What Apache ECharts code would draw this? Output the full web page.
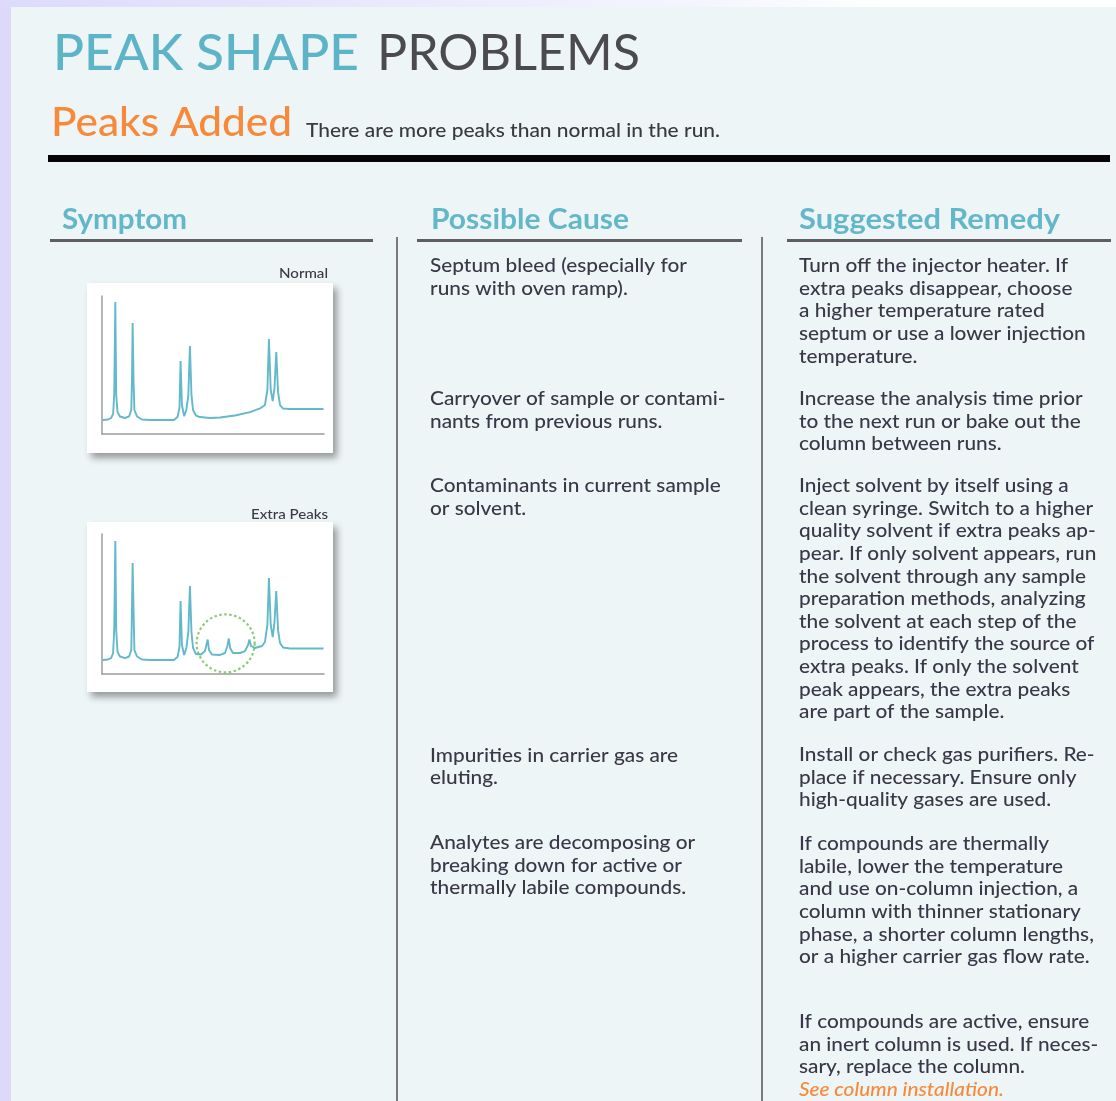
<!DOCTYPE html>
<html><head><meta charset="utf-8">
<script src="https://cdn.jsdelivr.net/npm/echarts@6/dist/echarts.min.js"></script>
<style>html,body{margin:0;padding:0;background:#DCD9FB;}#c{width:1116px;height:1101px;}</style>
</head><body><div id="c"></div>
<script>
// ---------- content ----------
const pageTitle = ['PEAK SHAPE', 'PROBLEMS'];
const problemName = 'Peaks Added';
const problemDesc = 'There are more peaks than normal in the run.';
const columnHeaders = ['Symptom', 'Possible Cause', 'Suggested Remedy'];
const chartLabels = ['Normal', 'Extra Peaks'];
const causes = [
  'Septum bleed (especially for\nruns with oven ramp).',
  'Carryover of sample or contami-\nnants from previous runs.',
  'Contaminants in current sample\nor solvent.',
  'Impurities in carrier gas are\neluting.',
  'Analytes are decomposing or\nbreaking down for active or\nthermally labile compounds.'
];
const remedies = [
  'Turn off the injector heater. If\nextra peaks disappear, choose\na higher temperature rated\nseptum or use a lower injection\ntemperature.',
  'Increase the analysis time prior\nto the next run or bake out the\ncolumn between runs.',
  'Inject solvent by itself using a\nclean syringe. Switch to a higher\nquality solvent if extra peaks ap-\npear. If only solvent appears, run\nthe solvent through any sample\npreparation methods, analyzing\nthe solvent at each step of the\nprocess to identify the source of\nextra peaks. If only the solvent\npeak appears, the extra peaks\nare part of the sample.',
  'Install or check gas purifiers. Re-\nplace if necessary. Ensure only\nhigh-quality gases are used.',
  'If compounds are thermally\nlabile, lower the temperature\nand use on-column injection, a\ncolumn with thinner stationary\nphase, a shorter column lengths,\nor a higher carrier gas flow rate.',
  'If compounds are active, ensure\nan inert column is used. If neces-\nsary, replace the column.'
];
const remedyLink = 'See column installation.';

// chromatogram (time 0-100, signal 0-100)
const normalTime =   [0.3, 2.7, 4.1, 5.0, 5.5, 6.0, 6.4, 7.0, 8.1, 10.4, 12.2, 13.2, 13.5, 13.8, 14.2, 14.6, 15.8, 18.0, 21.6, 32.4, 34.0, 34.9, 35.4, 36.0, 37.0, 38.0, 38.9, 39.6, 40.3, 41.0, 42.3, 44.1, 48.6, 53.2, 59.9, 66.7, 71.2, 73.4, 74.5, 75.2, 76.0, 76.9, 77.7, 78.5, 79.3, 80.2, 81.5, 84.7, 99.8];
const normalSignal = [10.1, 10.5, 11.6, 14.5, 28.3, 95.7, 28.3, 15.9, 12.7, 11.6, 12.7, 17.4, 39.0, 80.4, 39.0, 17.4, 12.7, 10.5, 10.1, 10.1, 12.3, 18.8, 52.9, 21.0, 13.0, 17.4, 28.3, 63.8, 28.3, 17.4, 13.4, 12.3, 11.6, 12.0, 13.4, 15.9, 18.5, 21.0, 31.9, 68.8, 31.9, 23.9, 33.3, 59.4, 30.4, 21.0, 18.5, 18.1, 18.1];
const extraTime =    [0.3, 2.7, 4.1, 5.0, 5.5, 6.0, 6.4, 7.0, 8.1, 10.4, 12.2, 13.2, 13.5, 13.8, 14.2, 14.6, 15.8, 18.0, 21.6, 32.4, 34.0, 34.9, 35.4, 36.0, 37.0, 38.0, 38.9, 39.6, 40.3, 41.0, 42.3, 44.6, 46.4, 47.6, 48.2, 49.5, 53.2, 55.4, 56.5, 57.1, 57.7, 59.0, 62.2, 64.4, 65.8, 66.4, 67.1, 68.9, 72.1, 73.4, 74.5, 75.2, 76.0, 76.9, 77.7, 78.5, 79.3, 80.2, 81.5, 84.7, 99.8];
const extraSignal =  [10.0, 10.4, 11.4, 15.0, 31.4, 95.0, 31.4, 15.7, 12.5, 11.4, 12.5, 17.1, 45.7, 79.3, 45.7, 17.1, 12.5, 10.4, 10.0, 10.0, 12.1, 19.3, 52.1, 20.7, 13.6, 18.6, 30.0, 62.9, 30.0, 18.6, 14.3, 13.9, 16.4, 24.6, 17.1, 13.9, 13.6, 15.0, 20.0, 25.4, 18.6, 15.0, 15.0, 16.4, 20.7, 24.6, 20.0, 18.6, 20.0, 22.9, 35.0, 68.6, 35.0, 26.4, 37.1, 59.3, 31.4, 22.1, 18.9, 18.2, 18.2];
const extraPeakMarker = [55.7, 21.9];

// ---------- layout ----------
const F = 'Lato, "Open Sans", sans-serif';
const C_TEAL = '#5CB4C6', C_HEAD = '#63B7C9', C_DARK = '#4B4B4F', C_ORANGE = '#F6893A', C_BODY = '#3A3848';
const DY = 1.5;
const mctx = document.createElement('canvas').getContext('2d');
function fit(text, font, target) { mctx.font = font; return target / mctx.measureText(text).width; }
function label(text, x, baseline, size, weight, color, target, align, style) {
  const font = (style || 'normal') + ' ' + weight + ' ' + size + 'px ' + F;
  const s = target ? fit(text, font, target) : 1;
  return { type: 'text', x: x, y: baseline - 0.387 * size + DY, scaleX: s, z: 10,
    style: { text: text, font: font, fill: color, align: align || 'left', verticalAlign: 'middle' } };
}
const BODY = 19, LH = 22.6;
const bodyFont = 'normal 500 ' + BODY + 'px ' + F;
const bodyScale = fit('Turn off the injector heater. If', bodyFont, 269);
function para(text, x, baseline) {
  return { type: 'text', x: x, y: baseline - (LH / 2 + 0.387 * BODY) + DY, scaleX: bodyScale, z: 10,
    style: { text: text, font: bodyFont, fill: C_BODY, lineHeight: LH, verticalAlign: 'top', align: 'left' } };
}
const causeBase = [272, 405, 492, 761.5, 849];
const remedyBase = [272, 405, 492, 761, 850, 1028];

const els = [];
els.push({ type: 'rect', shape: { x: 0, y: 0, width: 1116, height: 1101 }, style: { fill: '#DCD9FB' }, z: 0 });
els.push({ type: 'rect', shape: { x: 0, y: 0, width: 1116, height: 7 }, z: 0,
  style: { fill: { type: 'linear', x: 0, y: 0, x2: 1, y2: 0, colorStops: [
    { offset: 0, color: '#DDDAFB' }, { offset: 0.6, color: '#F4F3FE' }, { offset: 0.8, color: '#FFFFFF' }, { offset: 1, color: '#FFFFFF' }] } } });
els.push({ type: 'rect', shape: { x: 11, y: 7, width: 1105, height: 1094 }, style: { fill: '#EEF5F7' }, z: 0 });
// headline
els.push(label(pageTitle[0], 53, 71.7, 50, 500, C_TEAL, 306));
els.push(label(pageTitle[1], 377, 71.7, 50, 400, C_DARK, 263));
els.push(label(problemName, 51, 136.7, 40, 500, C_ORANGE, 241));
els.push(label(problemDesc, 306, 136.7, 20, 500, '#3A3A3E', 414));
els.push({ type: 'rect', shape: { x: 48, y: 155, width: 1062, height: 7 }, style: { fill: '#050505' }, z: 1 });
// column headers
els.push(label(columnHeaders[0], 62, 229, 29, 700, C_HEAD, 125));
els.push(label(columnHeaders[1], 431, 229, 29, 700, C_HEAD, 198));
els.push(label(columnHeaders[2], 799, 229, 29, 700, C_HEAD, 261));
[[50, 323], [417, 325], [787, 324]].forEach(function (r) {
  els.push({ type: 'rect', shape: { x: r[0], y: 239, width: r[1], height: 3 }, style: { fill: '#5E5E60' }, z: 1 });
});
[396, 761].forEach(function (x) {
  els.push({ type: 'rect', shape: { x: x, y: 237, width: 2, height: 870 }, style: { fill: '#7A7A7C' }, z: 1 });
});
// symptom cards
[283, 522].forEach(function (y) {
  els.push({ type: 'rect', shape: { x: 87, y: y, width: 246, height: 170 }, z: 1,
    style: { fill: '#FFFFFF', shadowBlur: 7, shadowColor: 'rgba(40,40,40,0.45)', shadowOffsetX: 4, shadowOffsetY: 5 } });
});
els.push(label(chartLabels[0], 328, 277.3, 14, 500, '#3A3A44', 49, 'right'));
els.push(label(chartLabels[1], 328, 518.3, 14, 500, '#3A3A44', 77, 'right'));
// body text
causes.forEach(function (t, i) { els.push(para(t, 430, causeBase[i])); });
remedies.forEach(function (t, i) { els.push(para(t, 799, remedyBase[i])); });
(function () {
  const fnt = 'italic 500 ' + BODY + 'px ' + F;
  els.push({ type: 'text', x: 799, y: remedyBase[5] + 3 * LH - 0.387 * BODY + DY, scaleX: bodyScale, z: 10,
    style: { text: remedyLink, font: fnt, fill: C_ORANGE, verticalAlign: 'middle' } });
})();

const axisCommon = function (i) {
  return { gridIndex: i, type: 'value', min: 0, max: 100, z: 3,
    axisLine: { show: true, onZero: false, lineStyle: { color: '#9C9C9C', width: 1.5 } },
    axisTick: { show: false }, axisLabel: { show: false }, splitLine: { show: false } };
};
const traceStyle = { color: '#62B9CA', width: 1.9 };
const option = {
  animation: false,
  backgroundColor: '#DCD9FB',
  graphic: { elements: els },
  grid: [
    { left: 102, top: 296, width: 222, height: 138 },
    { left: 102, top: 534, width: 222, height: 140 }
  ],
  xAxis: [axisCommon(0), axisCommon(1)],
  yAxis: [axisCommon(0), axisCommon(1)],
  series: [
    { type: 'line', xAxisIndex: 0, yAxisIndex: 0, showSymbol: false, z: 4, lineStyle: traceStyle,
      data: normalTime.map(function (t, i) { return [t, normalSignal[i]]; }) },
    { type: 'line', xAxisIndex: 1, yAxisIndex: 1, showSymbol: false, z: 4, lineStyle: traceStyle,
      data: extraTime.map(function (t, i) { return [t, extraSignal[i]]; }) },
    { type: 'scatter', xAxisIndex: 1, yAxisIndex: 1, symbol: 'circle', symbolSize: 58, z: 5,
      itemStyle: { color: 'rgba(0,0,0,0)', borderColor: '#6CBF52', borderWidth: 2.2, borderType: [2.5, 2.5] },
      data: [extraPeakMarker] }
  ]
};
const chart = echarts.init(document.getElementById('c'), null, { renderer: 'canvas' });
chart.setOption(option);
</script></body></html>
